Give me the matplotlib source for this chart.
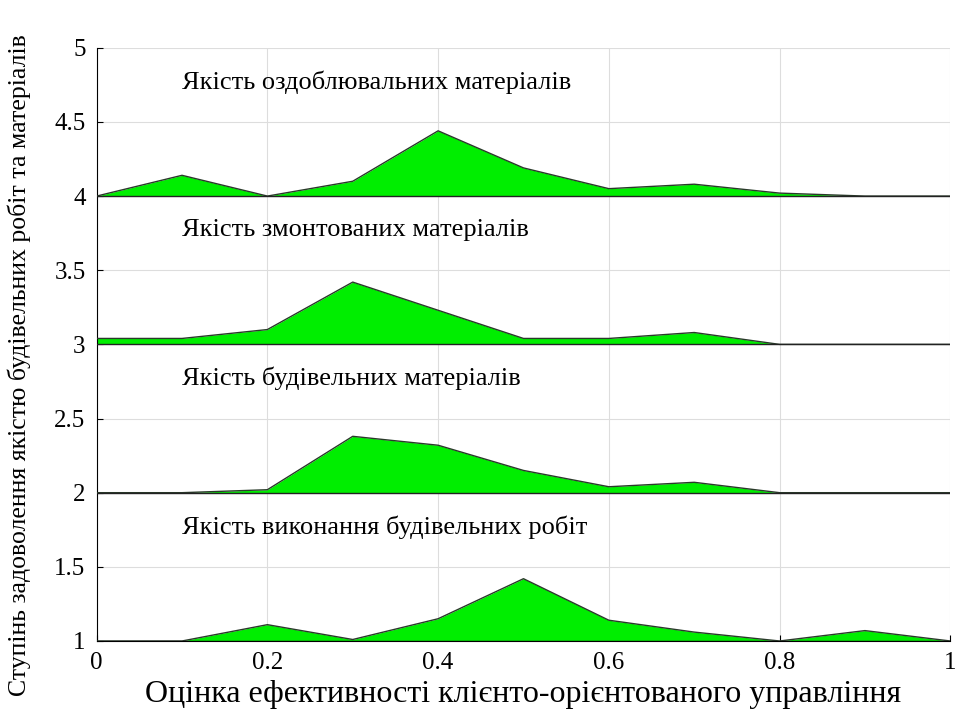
import matplotlib.pyplot as plt

plt.rcParams['font.family'] = ['Liberation Serif', 'DejaVu Serif']

x = [0, 0.1, 0.2, 0.3, 0.4, 0.5, 0.6, 0.7, 0.8, 0.9, 1.0]

finish = [4.0, 4.14, 4.0, 4.10, 4.44, 4.19, 4.05, 4.08, 4.02, 4.0, 4.0]
mounted = [3.04, 3.04, 3.10, 3.42, 3.23, 3.04, 3.04, 3.08, 3.0, 3.0, 3.0]
building = [2.0, 2.0, 2.02, 2.38, 2.32, 2.15, 2.04, 2.07, 2.0, 2.0, 2.0]
works = [1.0, 1.0, 1.11, 1.01, 1.15, 1.42, 1.14, 1.06, 1.0, 1.07, 1.0]

series = [finish, mounted, building, works]
bases = [4, 3, 2, 1]
labels = ['Якість оздоблювальних матеріалів',
          'Якість змонтованих матеріалів',
          'Якість будівельних матеріалів',
          'Якість виконання будівельних робіт']

fig = plt.figure(figsize=(9.57, 7.13), dpi=100)
ax = fig.add_axes([0.101, 0.101, 0.892, 0.832])

for y, base, label in zip(series, bases, labels):
    ax.fill_between(x, base, y, color='#00ee00', linewidth=0, zorder=2)
    ax.plot(x, y, color='#2a3a2a', linewidth=1.0, zorder=3)
    ax.axhline(base, color='#222222', linewidth=1.0, zorder=3)
    ax.text(0.10, base + 0.77, label, fontsize=19, va='center', ha='left')

ax.set_xlim(0, 1)
ax.set_ylim(1, 5)
ax.set_xticks([0, 0.2, 0.4, 0.6, 0.8, 1])
ax.set_xticklabels(['0', '0.2', '0.4', '0.6', '0.8', '1'])
ax.set_yticks([1, 1.5, 2, 2.5, 3, 3.5, 4, 4.5, 5])
ax.set_yticklabels(['1', '1.5', '2', '2.5', '3', '3.5', '4', '4.5', '5'])
ax.grid(True, color='#dddddd', linewidth=0.8, zorder=0)
ax.set_axisbelow(True)
ax.tick_params(direction='in', labelsize=18, length=4, pad=8)
ax.spines['top'].set_visible(False)
ax.spines['right'].set_visible(False)

ax.set_xlabel('Оцінка ефективності клієнто-орієнтованого управління', fontsize=23, labelpad=4)
ax.set_ylabel('Ступінь задоволення якістю будівельних робіт та матеріалів', fontsize=18.5)
ax.yaxis.set_label_coords(-0.077, 0.465)

fig.savefig('out.png', dpi=100)
